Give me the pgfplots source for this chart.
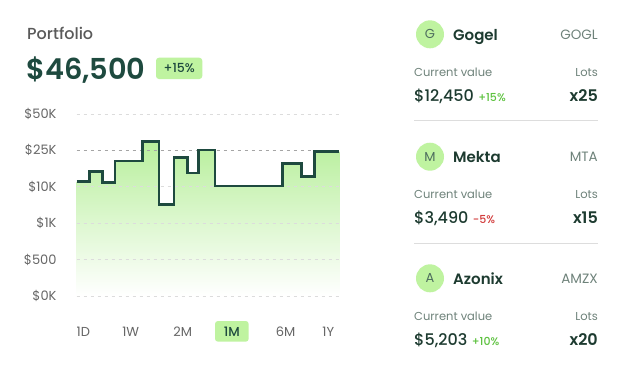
\documentclass[border=0pt]{standalone}
\usepackage{pgfplots}
\pgfplotsset{compat=1.18}
\usepackage{fontspec}
\setmainfont{Poppins}
\newfontfamily\medfont{Poppins Medium}
\newfontfamily\semifont{Poppins SemiBold}
\definecolor{dkgreen}{HTML}{1E4A3F}
\definecolor{darktext}{HTML}{1D3B30}
\definecolor{lgreen}{HTML}{BFF3A0}
\definecolor{fillgreen}{HTML}{B8EF9C}
\definecolor{labelgray}{HTML}{666666}
\definecolor{titlegray}{HTML}{5A5A5A}
\definecolor{subgray}{HTML}{6E827A}
\definecolor{lettergray}{HTML}{4E6E5E}
\definecolor{gridgray}{HTML}{DCDCDC}
\definecolor{griddark}{HTML}{A5A5A5}
\definecolor{sepgray}{HTML}{DDDDDD}
\definecolor{posgreen}{HTML}{5DC23F}
\definecolor{negred}{HTML}{D23B3B}
\newcommand{\fs}[1]{\fontsize{#1}{#1}\selectfont}

\newcommand{\stockcard}[8]{%
\begin{scope}[yshift=-#1pt]
\fill[lgreen] (430,-34.3) circle (14);
\node[text=lettergray, font=\fs{13}, inner sep=0] at (430,-34.3) {#2};
\node[anchor=base west, inner sep=0, text=darktext, font=\fs{15}\semifont] at (453,-40) {#3};
\node[anchor=base east, inner sep=0, text=subgray, font=\fs{13.5}] at (598,-39.5) {#4};
\node[anchor=base west, inner sep=0, text=subgray, font=\fs{11.5}] at (414,-76) {Current value};
\node[anchor=base east, inner sep=0, text=subgray, font=\fs{11.5}] at (598,-76) {Lots};
\node[anchor=base west, inner sep=0, text=darktext, font=\fs{16}\medfont] (v) at (414,-101) {#5};
\node[anchor=base west, inner sep=0, text=#7, font=\fs{11}\medfont] at ([xshift=4pt]v.base east) {#6};
\node[anchor=base east, inner sep=0, text=darktext, font=\fs{16}\semifont] at (598,-101) {#8};
\end{scope}}

\begin{document}
\begin{tikzpicture}[x=1pt,y=1pt]
\path[use as bounding box, fill=white] (0,0) rectangle (624,-367);

% header
\node[anchor=base west, inner sep=0, text=titlegray, font=\fs{16}\medfont] at (27,-39) {Portfolio};
\node[anchor=base west, inner sep=0, text=dkgreen, font=\fs{28.8}\semifont] at (26,-79) {\$46,500};
\fill[lgreen, rounded corners=3pt] (156,-57.7) rectangle (202.3,-79);
\node[text=dkgreen, font=\fs{12.5}\medfont, inner sep=0] at (179.2,-68.4) {+15\%};

\begin{axis}[at={(76.7pt,-296pt)}, anchor=south west, scale only axis,
  width=262.6pt, height=182pt, xmin=76.7, xmax=339.3, ymin=0, ymax=5,
  clip=false, axis line style={draw=none}, xtick=\empty,
  ytick={0,1,2,3,4,5}, yticklabels={\$0K,\$500,\$1K,\$10K,\$25K,\$50K},
  major tick length=0pt,
  yticklabel style={anchor=east, inner sep=0pt, xshift=-20pt, font=\fs{13}, text=labelgray}]
\addplot[const plot, draw=none, top color=fillgreen, bottom color=white] coordinates {
(76.7,3.14) (89.3,3.42) (102.3,3.12) (115,3.71) (142.3,4.24) (159,2.52) (174,3.81)
(187.3,3.38) (198.3,4.01) (215,3.02) (282.7,3.64) (301.7,3.28) (314.3,3.97) (339.3,3.97)} \closedcycle;
\pgfplotsinvokeforeach{0,1,2,3,5}{
  \draw[gridgray, line width=0.8pt, dash pattern=on 3pt off 4pt] (axis cs:76.7,#1) -- (axis cs:339.3,#1);
}
\draw[griddark, line width=0.8pt, dash pattern=on 3pt off 4pt] (axis cs:76.7,4) -- (axis cs:339.3,4);
\addplot[const plot, dkgreen, line width=2.5pt] coordinates {
(76.7,3.14) (89.3,3.42) (102.3,3.12) (115,3.71) (142.3,4.24) (159,2.52) (174,3.81)
(187.3,3.38) (198.3,4.01) (215,3.02) (282.7,3.64) (301.7,3.28) (314.3,3.97) (339.3,3.97)};
\end{axis}

% tabs
\fill[lgreen, rounded corners=3pt] (215,-321) rectangle (248.7,-341.7);
\foreach \t/\x in {1D/83.3,1W/130.7,2M/182.7,6M/285.7,1Y/328.3}{
  \node[text=labelgray, font=\fs{13}, inner sep=0] at (\x,-332) {\t};
}
\node[text=dkgreen, font=\fs{13}\medfont, inner sep=0] at (231.8,-332) {1M};

% right panel
\stockcard{0}{G}{Gogel}{GOGL}{\$12,450}{+15\%}{posgreen}{x25}
\draw[sepgray, line width=1pt] (414,-120.7) -- (598,-120.7);
\stockcard{122.4}{M}{Mekta}{MTA}{\$3,490}{-5\%}{negred}{x15}
\draw[sepgray, line width=1pt] (414,-243.3) -- (598,-243.3);
\stockcard{244}{A}{Azonix}{AMZX}{\$5,203}{+10\%}{posgreen}{x20}
\end{tikzpicture}
\end{document}
